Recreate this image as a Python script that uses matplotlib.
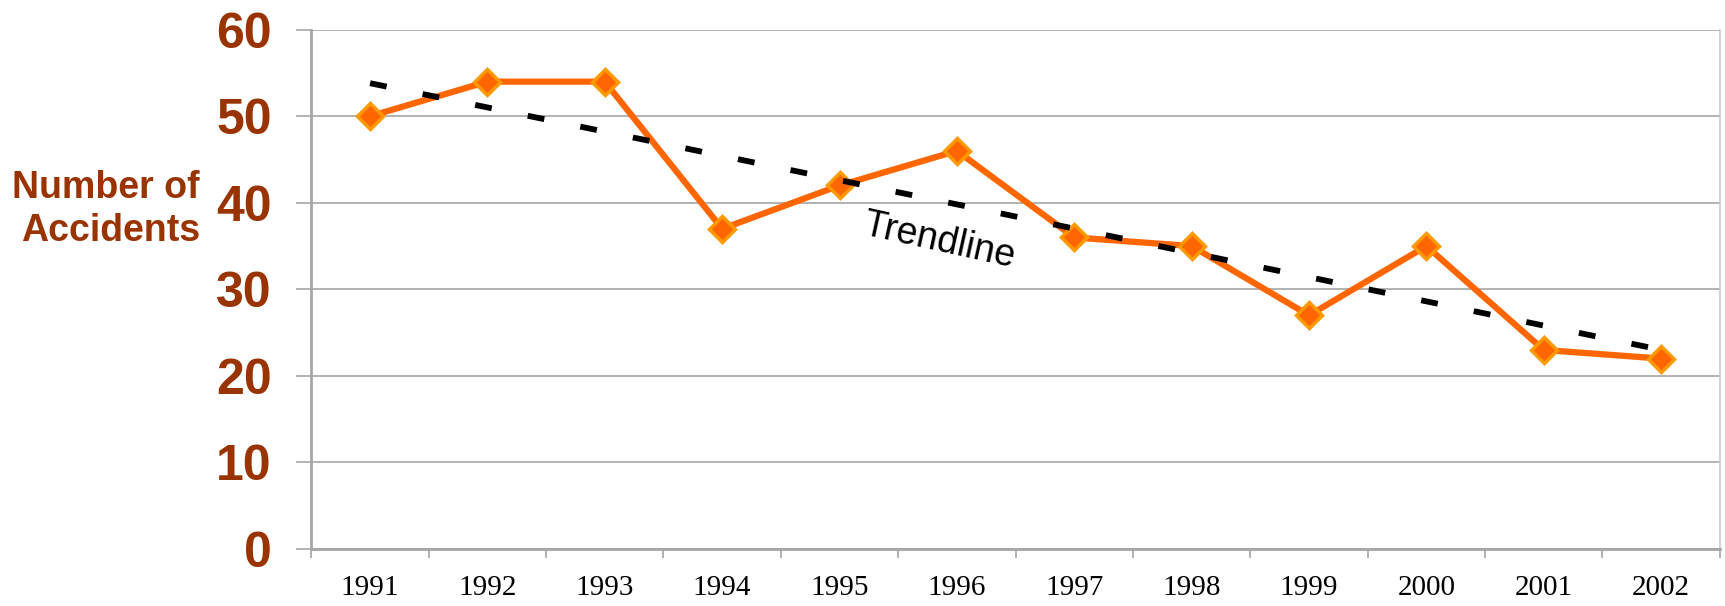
import numpy as np
import matplotlib
matplotlib.use("Agg")
import matplotlib.pyplot as plt

years = ["1991", "1992", "1993", "1994", "1995", "1996",
         "1997", "1998", "1999", "2000", "2001", "2002"]
accidents = [50, 54, 54, 37, 42, 46, 36, 35, 27, 35, 23, 22]
y_ticks = [0, 10, 20, 30, 40, 50, 60]

BROWN = "#993300"
ORANGE = "#FF6600"
GRID = "#A6A6A6"

fig = plt.figure(figsize=(17.25, 6.06), dpi=100)
ax = fig.add_axes([0.1805, 0.094, 0.8165, 0.857])

x = np.arange(len(years))
# linear least-squares trendline through the series (as Excel draws it)
slope, icept = np.polyfit(x, accidents, 1)
trend = icept + slope * x

ax.plot(x, accidents, color=ORANGE, lw=4.5, marker="D", ms=13,
        mfc=ORANGE, mec="#FF9900", mew=2.5, zorder=3, clip_on=False)
ax.plot(x, trend, color="black", lw=4.2, dashes=(2.9, 6.3),
        dash_capstyle="butt", zorder=4)

ax.text(4.85, 35.6, "Trendline", fontsize=27, family="Liberation Sans",
        rotation=-12.5, ha="center", va="center", rotation_mode="anchor")

ax.set_xlim(-0.5, len(years) - 0.5)
ax.set_ylim(0, 60)
ax.set_yticks(y_ticks)
ax.set_yticklabels([str(v) for v in y_ticks], fontsize=36, fontweight="bold",
                   color=BROWN, family="Liberation Sans")
ax.set_xticks(x)
ax.set_xticklabels(years, fontsize=21, family="Liberation Serif")
ax.set_xticks(np.arange(-0.5, len(years)), minor=True)
ax.tick_params(axis="x", which="major", length=0, pad=19)
ax.tick_params(axis="x", which="minor", length=6.5, width=1.2, color=GRID)
ax.tick_params(axis="y", length=10.5, width=1.2, color=GRID, pad=18)

ax.yaxis.grid(True, color=GRID, lw=1.2)
ax.set_axisbelow(True)
for side in ["left", "bottom"]:
    ax.spines[side].set_color(GRID)
    ax.spines[side].set_linewidth(2)
ax.spines["top"].set_visible(False)
ax.spines["right"].set_color("#C8C8C8")
ax.spines["right"].set_linewidth(1.2)

fig.text(0.116, 0.655, "Number of\nAccidents", fontsize=27, fontweight="bold",
         color=BROWN, family="Liberation Sans", ha="right", va="center",
         multialignment="right", linespacing=1.25)

fig.savefig("out.png", dpi=100)
